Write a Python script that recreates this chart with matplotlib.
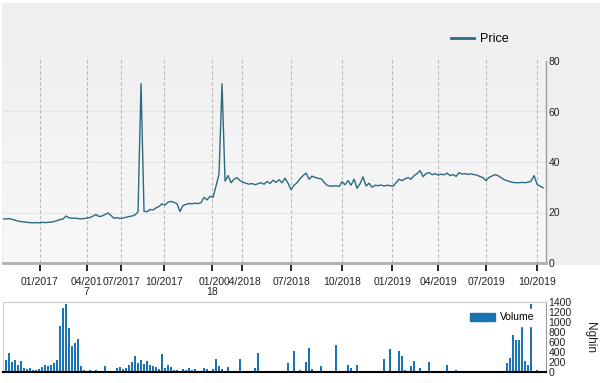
import numpy as np
import matplotlib
matplotlib.use("Agg")
import matplotlib.pyplot as plt
from matplotlib.patches import Patch
from matplotlib.lines import Line2D

plt.rcParams['font.family'] = ['Liberation Sans', 'DejaVu Sans']

# price series, one value per session step
price = [17.5, 17.4, 17.6, 17.3, 17.0, 16.6, 16.4, 16.3, 16.1, 16.0,
         15.9, 16.0, 15.9, 16.1, 16.0, 16.1, 16.2, 16.4, 16.8, 17.2,
         17.4, 18.6, 17.9, 17.7, 17.8, 17.6, 17.5, 17.6, 17.8, 18.0,
         18.6, 19.2, 18.4, 18.6, 19.2, 19.8, 18.8, 17.7, 18.0, 17.6,
         17.8, 18.1, 18.4, 18.6, 19.0, 20.3, 71.0, 20.5, 20.3, 21.2,
         21.0, 21.8, 22.4, 23.4, 23.0, 24.1, 24.4, 24.0, 23.5, 20.4,
         22.8, 23.2, 23.6, 23.4, 23.7, 23.5, 23.9, 26.0, 25.0, 26.4,
         26.0, 30.5, 35.3, 71.0, 32.4, 34.6, 31.8, 33.2, 33.8, 32.6,
         32.0, 31.6, 31.2, 31.5, 31.0, 31.4, 31.8, 31.2, 32.3, 31.5,
         32.8, 31.9, 33.0, 31.8, 33.6, 31.6, 29.0, 30.8, 31.8, 33.4,
         34.6, 35.6, 33.2, 34.4, 33.9, 33.5, 33.4, 32.0, 30.8, 30.4,
         30.5, 30.6, 30.3, 32.2, 31.0, 32.6, 30.8, 33.2, 29.6, 31.4,
         34.1, 30.5, 31.6, 30.0, 30.8, 30.6, 30.9, 30.5, 30.8, 30.6,
         30.4, 31.8, 33.2, 32.6, 33.4, 33.8, 33.2, 34.6, 35.4, 36.6,
         34.2, 35.4, 35.8, 35.0, 35.4, 34.8, 35.2, 34.9, 35.6, 34.6,
         35.0, 34.3, 35.8, 35.2, 35.4, 35.1, 35.3, 35.0, 34.8, 34.2,
         33.8, 32.6, 33.9, 34.5, 35.0, 34.6, 33.8, 33.0, 32.6, 32.2,
         31.9, 31.8, 31.8, 31.9, 31.8, 32.0, 32.4, 34.6, 31.2, 30.4,
         29.8]

# volume, thousands of shares
volume = [180, 240, 390, 200, 250, 150, 220, 80, 60, 90,
          40, 50, 70, 110, 150, 120, 140, 180, 250, 930,
          1290, 1370, 890, 520, 590, 670, 120, 50, 30, 40,
          30, 40, 20, 30, 130, 20, 30, 10, 80, 100,
          60, 90, 150, 200, 330, 180, 240, 160, 220, 140,
          120, 100, 60, 370, 90, 150, 110, 40, 50, 30,
          60, 40, 90, 50, 60, 30, 20, 80, 70, 30,
          70, 270, 120, 60, 20, 100, 20, 10, 30, 270,
          20, 10, 20, 30, 90, 390, 20, 10, 20, 10,
          20, 30, 20, 10, 20, 190, 20, 420, 30, 40,
          20, 210, 490, 60, 20, 10, 130, 20, 10, 20,
          10, 550, 20, 10, 20, 150, 80, 20, 150, 30,
          20, 10, 20, 10, 30, 20, 10, 270, 20, 470,
          20, 10, 430, 330, 40, 20, 120, 230, 30, 80,
          20, 10, 210, 20, 10, 20, 10, 20, 150, 20,
          10, 50, 20, 10, 15, 10, 15, 10, 15, 10,
          15, 10, 15, 20, 30, 10, 20, 30, 180, 280,
          750, 650, 650, 950, 230, 150, 1360, 30, 40, 20,
          10]

tick_pos = [12.3, 27.9, 39.4, 53.8, 69.6, 79.8, 96.0, 112.9, 129.8, 145.1, 161.0, 177.9]
tick_labels = ["01/2017", "04/201\n7", "07/2017", "10/2017", "01/20\n18", "04/2018",
               "07/2018", "10/2018", "01/2019", "04/2019", "07/2019", "10/2019"]

W, H = 603, 383
fig = plt.figure(figsize=(W / 100, H / 100), dpi=100)
fig.patch.set_facecolor("white")

# gray band behind price panel
bg = fig.add_axes([2 / W, 1 - 265 / H, 598 / W, 262 / H], zorder=0)
bg.set_facecolor("#efefef")
bg.set_xticks([])
bg.set_yticks([])
for s in bg.spines.values():
    s.set_visible(False)

x = np.arange(len(price))
line_col = "#2c6a82"

ax = fig.add_axes([3 / W, 1 - 263 / H, 542.5 / W, 202 / H], zorder=2)
ax.set_facecolor("none")
grad = np.linspace(0, 1, 100).reshape(-1, 1)
ax.imshow(grad, extent=[0, 1, 0, 1], transform=ax.transAxes, aspect="auto",
          cmap=matplotlib.colors.LinearSegmentedColormap.from_list("g", ["#f0f0f0", "#f8f8f8"]),
          zorder=0)
ax.plot(x, price, color=line_col, lw=1.0, zorder=3)
ax.set_xlim(0, 180.8)
ax.set_ylim(0, 80)
ax.set_yticks([0, 20, 40, 60, 80])
ax.yaxis.tick_right()
ax.tick_params(axis="y", length=0, pad=2, labelsize=7.5, colors="#222222")
for yv in [20, 40, 60]:
    ax.axhline(yv, color="#e4e4e4", lw=0.8, zorder=1)
for tp in tick_pos:
    ax.plot([tp, tp], [0, 81.5], color="#b8b8b8", lw=0.8, ls=(0, (3, 2)),
            zorder=2, clip_on=False)
ax.set_xticks(tick_pos)
ax.set_xticklabels(tick_labels, fontsize=7.5, color="#222222", linespacing=1.0)
ax.tick_params(axis="x", length=6, width=1.2, color="black", pad=4, direction="out")
for s in ["top", "left"]:
    ax.spines[s].set_visible(False)
ax.spines["bottom"].set_color("#b0b0b0")
ax.spines["bottom"].set_linewidth(2)
ax.spines["right"].set_color("#a0a0a0")
ax.spines["right"].set_linewidth(1)

fig.legend([Line2D([0], [0], color=line_col, lw=2)], ["Price"],
           loc="center left", bbox_to_anchor=(440 / W, 1 - 39 / H),
           frameon=False, fontsize=9, handlelength=1.8, handletextpad=0.5)

axv = fig.add_axes([3 / W, 1 - 372 / H, 542.5 / W, 70 / H], zorder=2)
axv.bar(x, volume, width=0.55, color="#1a74b4", zorder=2)
axv.set_xlim(0, 180.8)
axv.set_ylim(0, 1400)
axv.set_xticks([])
axv.set_yticks(range(0, 1401, 200))
axv.yaxis.tick_right()
axv.tick_params(axis="y", length=0, pad=2, labelsize=7.5, colors="#222222")
for s in ["top", "left", "right"]:
    axv.spines[s].set_color("#cccccc")
axv.spines["right"].set_color("#999999")
axv.spines["bottom"].set_color("black")
axv.spines["bottom"].set_linewidth(1.5)
axv.legend([Patch(color="#1a74b4")], ["Volume"], loc="upper right",
           bbox_to_anchor=(0.995, 0.97), fontsize=7.5, frameon=True,
           facecolor="white", edgecolor="white", framealpha=1,
           handlelength=2.4, handleheight=0.8, handletextpad=0.5,
           borderpad=0.3)

fig.text(590 / W, 1 - 337 / H, "Nghin", rotation=-90, fontsize=8.5,
         ha="center", va="center", color="#222222")

fig.savefig("out.png", dpi=100)
